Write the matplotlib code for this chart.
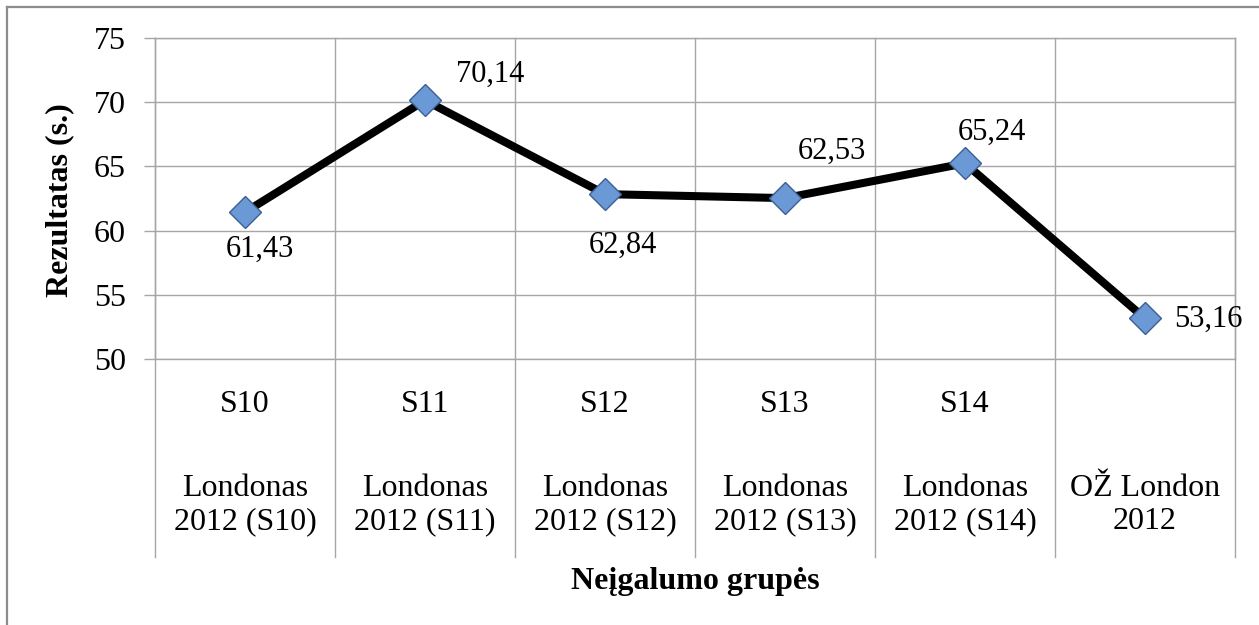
import matplotlib.pyplot as plt
from matplotlib.lines import Line2D

plt.rcParams['font.family'] = ['Liberation Serif', 'DejaVu Serif']

# data
groups = ['S10', 'S11', 'S12', 'S13', 'S14', '']
events = ['Londonas\n2012 (S10)', 'Londonas\n2012 (S11)', 'Londonas\n2012 (S12)',
          'Londonas\n2012 (S13)', 'Londonas\n2012 (S14)', 'OŽ London\n2012']
results = [61.43, 70.14, 62.84, 62.53, 65.24, 53.16]
value_labels = ['61,43', '70,14', '62,84', '62,53', '65,24', '53,16']
# label offsets in pixels relative to the marker
label_offsets = [(15, -37), (65, 26), (18, -51), (47, 47), (27, 31), (63, -1)]

W, H = 1259, 625
fig = plt.figure(figsize=(W / 100, H / 100), dpi=100)
ax = fig.add_axes([155 / W, 1 - 359 / H, (1235 - 155) / W, (359 - 38) / H])

grid_c = '#a6a6a6'
x = list(range(len(results)))

ax.plot(x, results, color='black', lw=5.8, zorder=3, solid_joinstyle='round')
ax.plot(x, results, ls='none', marker='D', ms=16, mfc='#6b99d6', mec='#3a5f94',
        mew=1.0, zorder=4)

for i, (v, t, off) in enumerate(zip(results, value_labels, label_offsets)):
    ax.annotate(t, (i, v), xytext=off, textcoords='offset pixels',
                ha='center', va='center', fontsize=22, zorder=5,
                annotation_clip=False)

ax.set_xlim(-0.5, len(results) - 0.5)
ax.set_ylim(50, 75)
ax.set_yticks(range(50, 80, 5))
ax.tick_params(axis='y', labelsize=23, length=8, width=1, color=grid_c, pad=13)
ax.tick_params(axis='x', bottom=False, labelbottom=False)
ax.grid(axis='y', color=grid_c, lw=1)
for s in ax.spines.values():
    s.set_color(grid_c)
    s.set_linewidth(1)

# category separators, extending down through the label area
xt = ax.get_xaxis_transform()
for b in [i - 0.5 for i in range(len(results) + 1)]:
    ax.add_line(Line2D([b, b], [1, -198 / 321], transform=xt, color=grid_c,
                       lw=1, clip_on=False, zorder=1))

for i, (g, e) in enumerate(zip(groups, events)):
    ax.annotate(g, (i, 0), xycoords=xt, xytext=(0, -46), textcoords='offset pixels',
                ha='center', va='center', fontsize=23)
    ax.annotate(e, (i, 0), xycoords=xt, xytext=(0, -146), textcoords='offset pixels',
                ha='center', va='center', fontsize=23, linespacing=1.2)

fig.text(695 / W, 1 - 582 / H, 'Neįgalumo grupės', ha='center', va='center',
         fontsize=23, fontweight='bold')
fig.text(60 / W, 1 - 200 / H, 'Rezultatas (s.)', ha='center', va='center',
         fontsize=23, fontweight='bold', rotation=90)

# outer chart border (only top and left are visible in the crop)
fig.add_artist(Line2D([7 / W, 7 / W], [0, 1 - 7 / H], transform=fig.transFigure,
                      color='#8c8c8c', lw=1.6))
fig.add_artist(Line2D([7 / W, 1], [1 - 7 / H, 1 - 7 / H], transform=fig.transFigure,
                      color='#8c8c8c', lw=1.6))

fig.savefig('out.png', dpi=100)
